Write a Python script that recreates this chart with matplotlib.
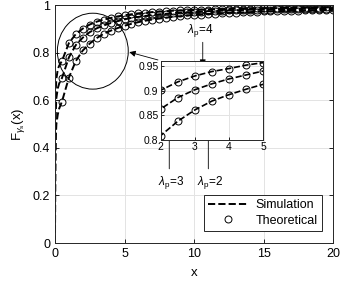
import numpy as np
import matplotlib
matplotlib.use('Agg')
from matplotlib import pyplot as plt
from matplotlib.patches import Ellipse

plt.rcParams['font.family'] = ['Liberation Sans', 'DejaVu Sans']
plt.rcParams['mathtext.fontset'] = 'custom'
plt.rcParams['mathtext.rm'] = 'Liberation Sans'
plt.rcParams['mathtext.it'] = 'Liberation Sans:italic'
plt.rcParams['mathtext.sf'] = 'Liberation Sans'

# theoretical points (x = 0.5 ... 20, step 0.5)
x_th = np.arange(1, 41) * 0.5
th_l2 = [0.594, 0.695, 0.765, 0.809, 0.838, 0.861, 0.879, 0.892, 0.903, 0.913,
         0.921, 0.928, 0.934, 0.939, 0.943, 0.947, 0.950, 0.953, 0.956, 0.958,
         0.960, 0.962, 0.964, 0.965, 0.967, 0.968, 0.969, 0.970, 0.972, 0.973,
         0.974, 0.974, 0.975, 0.976, 0.976, 0.977, 0.978, 0.979, 0.979, 0.980]
th_l3 = [0.693, 0.780, 0.832, 0.863, 0.886, 0.902, 0.914, 0.924, 0.932, 0.940,
         0.946, 0.950, 0.954, 0.958, 0.961, 0.963, 0.966, 0.968, 0.969, 0.971,
         0.972, 0.974, 0.975, 0.976, 0.977, 0.978, 0.979, 0.980, 0.980, 0.981,
         0.981, 0.982, 0.982, 0.983, 0.983, 0.984, 0.984, 0.985, 0.985, 0.986]
th_l4 = [0.765, 0.840, 0.878, 0.901, 0.918, 0.930, 0.939, 0.945, 0.952, 0.957,
         0.961, 0.965, 0.968, 0.970, 0.972, 0.974, 0.976, 0.977, 0.978, 0.979,
         0.980, 0.981, 0.982, 0.983, 0.983, 0.984, 0.985, 0.985, 0.986, 0.986,
         0.987, 0.987, 0.988, 0.988, 0.988, 0.989, 0.989, 0.989, 0.990, 0.990]

# simulation near the origin (after x=0.5 it follows the theory)
x_sim0 = [0.0, 0.01, 0.03, 0.06, 0.1, 0.2, 0.3]
sim_l2 = [0.0, 0.20, 0.35, 0.45, 0.50, 0.54, 0.565]
sim_l3 = [0.0, 0.30, 0.47, 0.56, 0.61, 0.65, 0.67]
sim_l4 = [0.0, 0.38, 0.56, 0.65, 0.69, 0.73, 0.745]

x_sim = np.concatenate([x_sim0, x_th])
sims = [np.concatenate([sim_l2, th_l2]),
        np.concatenate([sim_l3, th_l3]),
        np.concatenate([sim_l4, th_l4])]
theo = [th_l2, th_l3, th_l4]

W, H = 341, 281
fig = plt.figure(figsize=(W / 100, H / 100), dpi=100)
ax = fig.add_axes([55 / W, 1 - 243 / H, 278 / W, 238 / H])

for i in range(3):
    ax.plot(x_sim, sims[i], 'k--', lw=1.4, label='Simulation' if i == 0 else None)
    ax.plot(x_th, theo[i], 'o', mfc='none', mec='k', ms=5, mew=0.7,
            label='Theoretical' if i == 0 else None)

ax.set_xlim(0, 20)
ax.set_ylim(0, 1)
ax.set_xticks([0, 5, 10, 15, 20])
ax.set_yticks([0, 0.2, 0.4, 0.6, 0.8, 1])
ax.set_yticklabels(['0', '0.2', '0.4', '0.6', '0.8', '1'])
ax.grid(True, color='#e3e3e3', lw=0.7)
ax.set_axisbelow(True)
ax.tick_params(direction='in', labelsize=9, length=3, width=0.6, top=True, right=True)
for s in ax.spines.values():
    s.set_linewidth(0.7)
    s.set_color('#262626')
ax.set_xlabel('x', fontsize=9.5, labelpad=5)
ax.set_ylabel(r'F$_{\gamma_{\rm s}}$(x)', fontsize=9.5, labelpad=4)

leg = ax.legend(loc='lower right', bbox_to_anchor=(0.96, 0.05), fontsize=9,
                frameon=True, fancybox=False, edgecolor='#262626', framealpha=1,
                handlelength=3.2, borderpad=0.35, labelspacing=0.3, handletextpad=0.6,
                borderaxespad=0)
leg.get_frame().set_linewidth(0.7)

# zoom circle
ax.add_patch(Ellipse((2.72, 0.806), 5.1, 0.319, fill=False, ec='k', lw=0.7))
ax.annotate('', xy=(5.15, 0.805), xytext=(7.6, 0.766),
            arrowprops=dict(arrowstyle='-|>', color='k', lw=0.6, mutation_scale=9))

# curve labels
arw = dict(arrowstyle='-|>', color='k', lw=0.6, mutation_scale=9)
ax.annotate('', xy=(10.63, 0.733), xytext=(10.63, 0.855), arrowprops=arw)
ax.text(10.45, 0.893, r'$\lambda_{\rm p}$=4', fontsize=8.5, ha='center', va='center')
ax.annotate('', xy=(8.22, 0.587), xytext=(8.22, 0.30), arrowprops=arw)
ax.text(8.35, 0.255, r'$\lambda_{\rm p}$=3', fontsize=8.5, ha='center', va='center')
ax.annotate('', xy=(11.03, 0.601), xytext=(11.03, 0.30), arrowprops=arw)
ax.text(11.15, 0.255, r'$\lambda_{\rm p}$=2', fontsize=8.5, ha='center', va='center')

# inset
ins = fig.add_axes([160.7 / W, 1 - 140 / H, 102.3 / W, 79.3 / H])
for i in range(3):
    ins.plot(x_sim, sims[i], 'k--', lw=1.2)
    ins.plot(x_th, theo[i], 'o', mfc='none', mec='k', ms=5, mew=0.7)
ins.set_xlim(2, 5)
ins.set_ylim(0.8, 0.961)
ins.set_xticks([2, 3, 4, 5])
ins.set_yticks([0.8, 0.85, 0.9, 0.95])
ins.set_yticklabels(['0.8', '0.85', '0.9', '0.95'])
ins.grid(True, color='#e3e3e3', lw=0.7)
ins.set_axisbelow(True)
ins.tick_params(direction='in', labelsize=7.5, length=2.5, width=0.6, pad=1.5)
for s in ins.spines.values():
    s.set_linewidth(0.7)
    s.set_color('#262626')

fig.savefig('out.png', dpi=100)
